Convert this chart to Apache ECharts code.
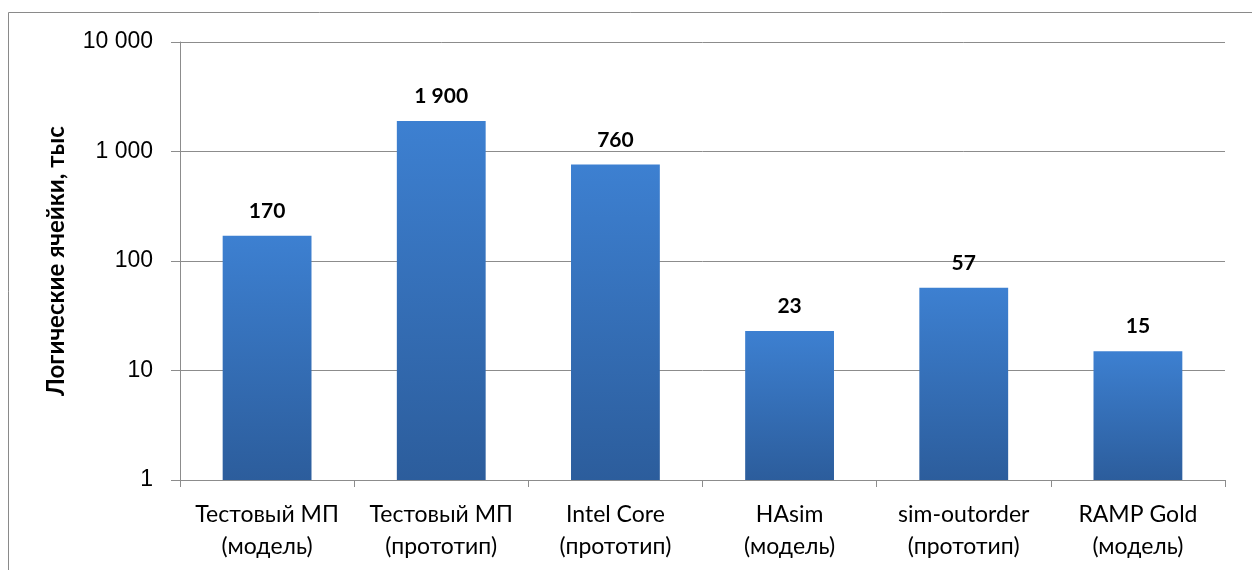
<!DOCTYPE html>
<html>
<head>
<meta charset="utf-8">
<script src="https://cdn.jsdelivr.net/npm/echarts@6/dist/echarts.min.js"></script>
<style>
  html, body { margin: 0; padding: 0; background: #fff; }
  #chart { width: 1252px; height: 570px; }
</style>
</head>
<body>
<div id="chart"></div>
<script>
// данные
var categories = [
    'Тестовый МП\n(модель)',
    'Тестовый МП\n(прототип)',
    'Intel Core\n(прототип)',
    'HAsim\n(модель)',
    'sim-outorder\n(прототип)',
    'RAMP Gold\n(модель)'
];
var cells = [170, 1900, 760, 23, 57, 15];
var yTicks = [1, 10, 100, 1000, 10000];

function fmt(v) {
    return String(Math.round(v)).replace(/\B(?=(\d{3})+(?!\d))/g, ' ');
}

var chart = echarts.init(document.getElementById('chart'));

var option = {
    backgroundColor: '#fff',
    animation: false,
    graphic: [{
        type: 'rect',
        shape: { x: 8.5, y: 12.5, width: 1400, height: 700 },
        style: { fill: 'none', stroke: '#8a8a8a', lineWidth: 1 },
        silent: true
    }],
    grid: { left: 180, right: 27, top: 42, bottom: 90 },
    xAxis: {
        type: 'category',
        data: categories,
        axisLine: { lineStyle: { color: '#8c8c8c', width: 1 } },
        axisTick: { show: true, length: 7, alignWithLabel: false, lineStyle: { color: '#8c8c8c' } },
        axisLabel: {
            color: '#000',
            fontFamily: 'Lato, "Open Sans", sans-serif',
            fontSize: 23,
            lineHeight: 32,
            margin: 19,
            interval: 0
        }
    },
    yAxis: {
        type: 'log',
        logBase: 10,
        min: yTicks[0],
        max: yTicks[yTicks.length - 1],
        name: 'Логические ячейки, тыс',
        nameLocation: 'middle',
        nameGap: 112,
        nameTextStyle: {
            color: '#000',
            fontFamily: 'Lato, "Open Sans", sans-serif',
            fontWeight: 'bold',
            fontSize: 24
        },
        axisLine: { show: true, lineStyle: { color: '#8c8c8c', width: 1 } },
        axisTick: { show: true, length: 9, lineStyle: { color: '#8c8c8c' } },
        axisLabel: {
            color: '#000',
            fontFamily: '"Liberation Sans", Arial, sans-serif',
            fontSize: 23,
            margin: 27,
            formatter: function (v) { return fmt(v); }
        },
        splitLine: { show: true, lineStyle: { color: '#8c8c8c', width: 1 } }
    },
    series: [{
        type: 'bar',
        data: cells,
        barWidth: '51%',
        itemStyle: {
            color: new echarts.graphic.LinearGradient(0, 0, 0, 1, [
                { offset: 0, color: '#3d80d1' },
                { offset: 1, color: '#2c5d9c' }
            ])
        },
        label: {
            show: true,
            position: 'top',
            distance: 14,
            color: '#000',
            fontFamily: 'Lato, "Open Sans", sans-serif',
            fontWeight: 'bold',
            fontSize: 21,
            formatter: function (p) { return fmt(p.value); }
        }
    }]
};

chart.setOption(option);
</script>
</body>
</html>
